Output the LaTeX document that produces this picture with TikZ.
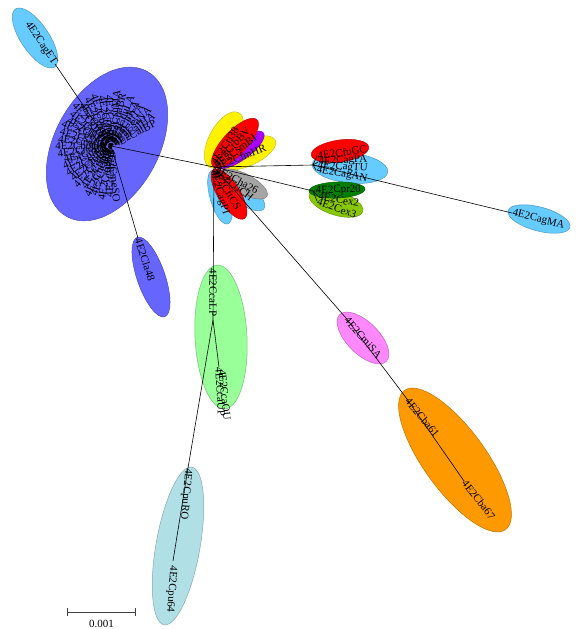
\documentclass[tikz,border=0pt]{standalone}
\usepackage{fontspec}
\setmainfont{Liberation Serif}
\usetikzlibrary{positioning,calc,shapes.geometric,arrows.meta}

\definecolor{skyb}{RGB}{102,204,255}
\definecolor{slate}{RGB}{102,102,255}
\definecolor{pgreen}{RGB}{153,255,153}
\definecolor{powder}{RGB}{176,224,230}
\definecolor{pinkv}{RGB}{255,136,255}
\definecolor{orng}{RGB}{255,153,0}
\definecolor{purp}{RGB}{170,0,255}
\definecolor{ygreen}{RGB}{136,200,0}
\definecolor{dgreen}{RGB}{0,128,0}
\definecolor{grayc}{RGB}{165,165,165}

\begin{document}
\begin{tikzpicture}[x=1pt,y=-1pt,
  every node/.style={font=\fontsize{11}{13}\selectfont},
  grp/.style={ellipse,inner sep=0pt,line width=.5pt,fill=#1,draw=#1!75!black},
  br/.style={line width=.6pt},
  lab/.style={inner sep=.5pt}]
\useasboundingbox (0,0) rectangle (577,629);

% coloured groups
\node[grp=skyb,minimum width=70pt,minimum height=28pt,rotate=-56] (gET) at (35,38) {};
\node[grp=slate,minimum width=166pt,minimum height=104pt,rotate=61] (gBig) at (107,144) {};
\node[grp=slate,minimum width=84pt,minimum height=28pt,rotate=-71] (gCla) at (151,277) {};
\node[grp=pgreen,minimum width=144pt,minimum height=52pt,rotate=-87] (gCca) at (221,337) {};
\node[grp=powder,minimum width=160pt,minimum height=44pt,rotate=80] (gCpu) at (178,546) {};
\node[grp=pinkv,minimum width=66pt,minimum height=32pt,rotate=-45] (gMSA) at (363,338) {};
\node[grp=orng,minimum width=172pt,minimum height=62pt,rotate=-54] (gCba) at (455,460) {};
\node[grp=skyb,minimum width=64pt,minimum height=24pt,rotate=-15] (gMA) at (539,219) {};
\node[grp=skyb,minimum width=76pt,minimum height=30pt,rotate=-6] (gAG) at (350,168) {};
\node[grp=red,minimum width=58pt,minimum height=22pt,rotate=8] (gGC) at (340,151) {};
\node[grp=ygreen,minimum width=56pt,minimum height=24pt,rotate=-18] (gEx) at (336,203) {};
\node[grp=dgreen,minimum width=56pt,minimum height=16pt,rotate=2] (gPr) at (337,190) {};
\node[grp=yellow,minimum width=62pt,minimum height=30pt,rotate=62] (gY1) at (224,140) {};
\node[grp=yellow,minimum width=62pt,minimum height=26pt,rotate=24] (gY2) at (247,153) {};
\node[grp=purp,minimum width=58pt,minimum height=20pt,rotate=36] (gPu) at (240,150) {};
\node[grp=red,minimum width=64pt,minimum height=24pt,rotate=47] (gRB) at (235,143) {};
\node[grp=skyb,minimum width=58pt,minimum height=22pt,rotate=-38] (gCH) at (241,191) {};
\node[grp=grayc,minimum width=52pt,minimum height=20pt,rotate=-28] (gGr) at (244,184) {};
\node[grp=skyb,minimum width=56pt,minimum height=20pt,rotate=-74] (gPI) at (220,197) {};
\node[grp=red,minimum width=58pt,minimum height=22pt,rotate=-58] (gCS) at (229,194) {};

% tree
\coordinate (A) at (111,146);
\coordinate (B) at (214,167);
\coordinate (C) at (313,165);
\coordinate (G) at (313,191);
\coordinate (D) at (213,320);
\coordinate (E) at (188,468);
\coordinate (M) at (346,318);
\coordinate (N) at (407,399);
\coordinate (lET) at (55,64);
\coordinate (lCla) at (138,238);
\coordinate (lMA) at (512,213);
\coordinate (lUP) at (219,367);
\coordinate (l64) at (173,561);
\coordinate (l67) at (464,481);
\coordinate (lGC) at (317,156);
\coordinate (lPA) at (318,162);
\coordinate (lTU) at (317,166);
\coordinate (lAN) at (316,170);
\coordinate (lPr) at (315,191);
\coordinate (lEx2) at (318,196);
\coordinate (lEx3) at (317,201);

\draw[br] (A) -- (lET);
\draw[br] (A) -- (lCla);
\draw[br] (A) -- (B);
\draw[br] (B) -- (C) -- (lMA);
\draw[br] (C) -- (lGC) (C) -- (lPA) (C) -- (lTU) (C) -- (lAN);
\draw[br] (B) -- (G) -- (lPr) (G) -- (lEx2) (G) -- (lEx3);
\draw[br] (B) -- (M) -- (N) -- (l67);
\draw[br] (B) -- (D) -- (lUP);
\draw[br] (D) -- (E) -- (l64);

% blue cluster fan
\foreach \nm [count=\i] in {4E2CalBP,4E2CalHA,4E2CsaNA,4E2CgiTA,4E2CtrKA,4E2CduLA,4E2CpaBR,4E2CsuMA,
  4E2CorPA,4E2CtaNE,4E2CbeRO,4E2CmoLI,4E2CviSA,4E2CguAN,4E2CreTO,4E2ClaMI,
  4E2CpeTU,4E2CsaLO,4E2CmaRI,4E2CboGA,4E2CnoRE,4E2CcaTI,4E2CpiVA,4E2CseLA,
  4E2CtoBE,4E2CfaNO,4E2CriSO,4E2CheDA,4E2CgaRT,4E2CnuBA,4E2CdiPO,4E2CmeSO}{
  \pgfmathsetmacro\ang{20+8*\i}
  \pgfmathtruncatemacro\flip{and(\ang>90,\ang<270)}
  \coordinate (f\i) at ($(A)+(-\ang:3)$);
  \draw[br] (A) -- (f\i);
  \ifnum\flip=1
    \node[lab,anchor=east,rotate=\ang-180] (fl\i) at (f\i) {\nm};
  \else
    \node[lab,anchor=west,rotate=\ang] (fl\i) at (f\i) {\nm};
  \fi
}

% leaf labels
\node[lab,anchor=east,rotate=-56] (tET) at (lET) {4E2CagET};
\node[lab,anchor=west,rotate=-72] (tCla) at (lCla) {4E2Cla48};
\node[lab,anchor=west,rotate=-14] (tMA) at (lMA) {4E2CagMA};
\node[lab,anchor=west,rotate=8] (tGC) at (lGC) {4E2CfuGC};
\node[lab,anchor=west,rotate=3] (tPA) at (lPA) {4E2CagPA};
\node[lab,anchor=west,rotate=-3] (tTU) at (lTU) {4E2CagTU};
\node[lab,anchor=west,rotate=-10] (tAN) at (lAN) {4E2CagAN};
\node[lab,anchor=west,rotate=2] (tPr) at (lPr) {4E2Cpr20};
\node[lab,anchor=west,rotate=-10] (tEx2) at (lEx2) {4E2Cex2};
\node[lab,anchor=west,rotate=-20] (tEx3) at (lEx3) {4E2Cex3};
\node[lab,anchor=west,rotate=57] (tY1) at (213,164) {4E2Cti38};
\node[lab,anchor=west,rotate=46] (tRB) at (214,165) {4E2CtbBV};
\node[lab,anchor=west,rotate=36] (tPu) at (215,166) {4E2CsmBI};
\node[lab,anchor=west,rotate=22] (tY2) at (216,167) {4E2CfmHR};
\node[lab,anchor=west,rotate=-28] (tGr) at (216,169) {4E2Cha26};
\node[lab,anchor=west,rotate=-38] (tCH) at (215,170) {4E2CtiCH};
\node[lab,anchor=west,rotate=-57] (tCS) at (214,170) {4E2CftCS};
\node[lab,anchor=west,rotate=-74] (tPI) at (213,170) {4E2CagPI};
\node[lab,anchor=west,rotate=-90] (tLP) at (213,268) {4E2CcaLP};
\node[lab,anchor=west,rotate=-87] (tUP) at (lUP) {4E2CcaUP};
\node[lab,anchor=west,rotate=-84] (tOU) at (222,369) {4E2CcaOU};
\node[lab,anchor=west,rotate=-95] (tRO) at (E) {4E2CpuRO};
\node[lab,anchor=west,rotate=-94] (t64) at ($(l64)+(0,4)$) {4E2Cpu64};
\node[lab,anchor=west,rotate=-49] (tSA) at (M) {4E2CmiSA};
\node[lab,anchor=west,rotate=-50] (t61) at (N) {4E2Cba61};
\node[lab,anchor=west,rotate=-52] (t67) at (l67) {4E2Cba67};

% scale bar
\coordinate (sbL) at (67,612);
\coordinate (sbR) at (136,612);
\draw[gray!50!black,line width=.8pt,{Bar[width=8pt]}-{Bar[width=8pt]}] (sbL) -- (sbR);
\node (sbT) at (101.5,624) {0.001};
\end{tikzpicture}
\end{document}
